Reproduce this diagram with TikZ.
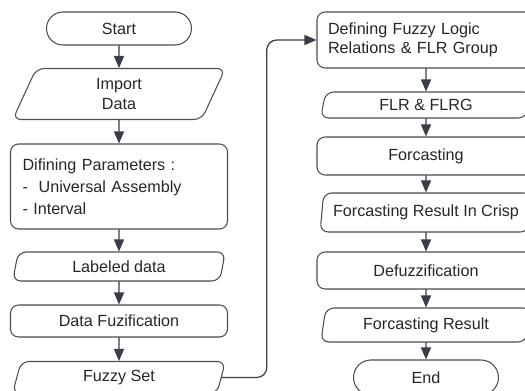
\documentclass[tikz,border=0pt]{standalone}
\usepackage{fontspec}
\setmainfont{Liberation Sans}
\usetikzlibrary{shapes.geometric,arrows.meta}
\definecolor{edgec}{HTML}{4D4D4D}
\definecolor{arrowc}{HTML}{383D47}
\begin{document}
\begin{tikzpicture}[x=0.02cm,y=-0.02cm,line join=round,line cap=round,
	font=\fontsize{9.2}{11}\selectfont,text=black!85,
	>={Triangle[length=2.4mm,width=2mm]},
	box/.style={draw=edgec,line width=0.6pt,rounded corners=1.6mm,minimum width=4.34cm,inner sep=0pt},
	term/.style={draw=edgec,line width=0.6pt,rounded corners=3.3mm,minimum width=2.9cm,minimum height=6.6mm,inner sep=0pt},
	io/.style={draw=edgec,line width=0.6pt,trapezium,trapezium left angle=78,trapezium right angle=102,trapezium stretches=true,rounded corners=1.6mm,minimum width=4.26cm,inner sep=0pt,align=center},
	flow/.style={->,draw=arrowc,line width=0.7pt}]
	\useasboundingbox (0,0) rectangle (525,391);
	\clip (0,0) rectangle (525,391);
	% left column
	\node[term] (start) at (119,28.5) {Start};
	\node[io,minimum height=1.02cm] (import) at (119,94) {Import\\Data};
	\node[box,minimum height=1.70cm,text width=3.86cm,inner xsep=0.24cm,align=left,font=\fontsize{9.2}{12.5}\selectfont] (params) at (119,186.5) {Difining Parameters :\\-\ \ Universal Assembly\\- Interval};
	\node[io,minimum height=0.58cm] (labeled) at (119,266.5) {Labeled data};
	\node[box,minimum height=0.64cm] (fuzif) at (119,321) {Data Fuzification};
	\node[io,minimum height=0.64cm] (fuzzy) at (119,377.5) {Fuzzy Set};
	% right column
	\node[box,minimum width=4.36cm,minimum height=1.12cm,text width=3.92cm,inner xsep=0.22cm,align=left] (flr) at (426,40) {Defining Fuzzy Logic\\Relations \& FLR Group};
	\node[io,minimum width=4.24cm,minimum height=0.52cm] (flrg) at (426,105) {FLR \& FLRG};
	\node[box,minimum width=4.36cm,minimum height=0.76cm] (forc) at (426,156) {Forcasting};
	\node[io,minimum width=4.24cm,minimum height=0.78cm] (crisp) at (426,212.5) {Forcasting Result In Crisp};
	\node[box,minimum width=4.36cm,minimum height=0.74cm] (defuzz) at (426,270.5) {Defuzzification};
	\node[io,minimum width=4.24cm,minimum height=0.68cm] (result) at (426,325) {Forcasting Result};
	\node[term,minimum height=7mm,rounded corners=3.5mm] (end) at (426,377.5) {End};
	\foreach \a/\b in {start/import,import/params,params/labeled,labeled/fuzif,fuzif/fuzzy,flr/flrg,flrg/forc,forc/crisp,crisp/defuzz,defuzz/result,result/end}
		\draw[flow] (\a) -- (\b);
	\draw[flow,rounded corners=2mm] (fuzzy.east) -- ++(45,0) |- (flr.west);
\end{tikzpicture}
\end{document}
